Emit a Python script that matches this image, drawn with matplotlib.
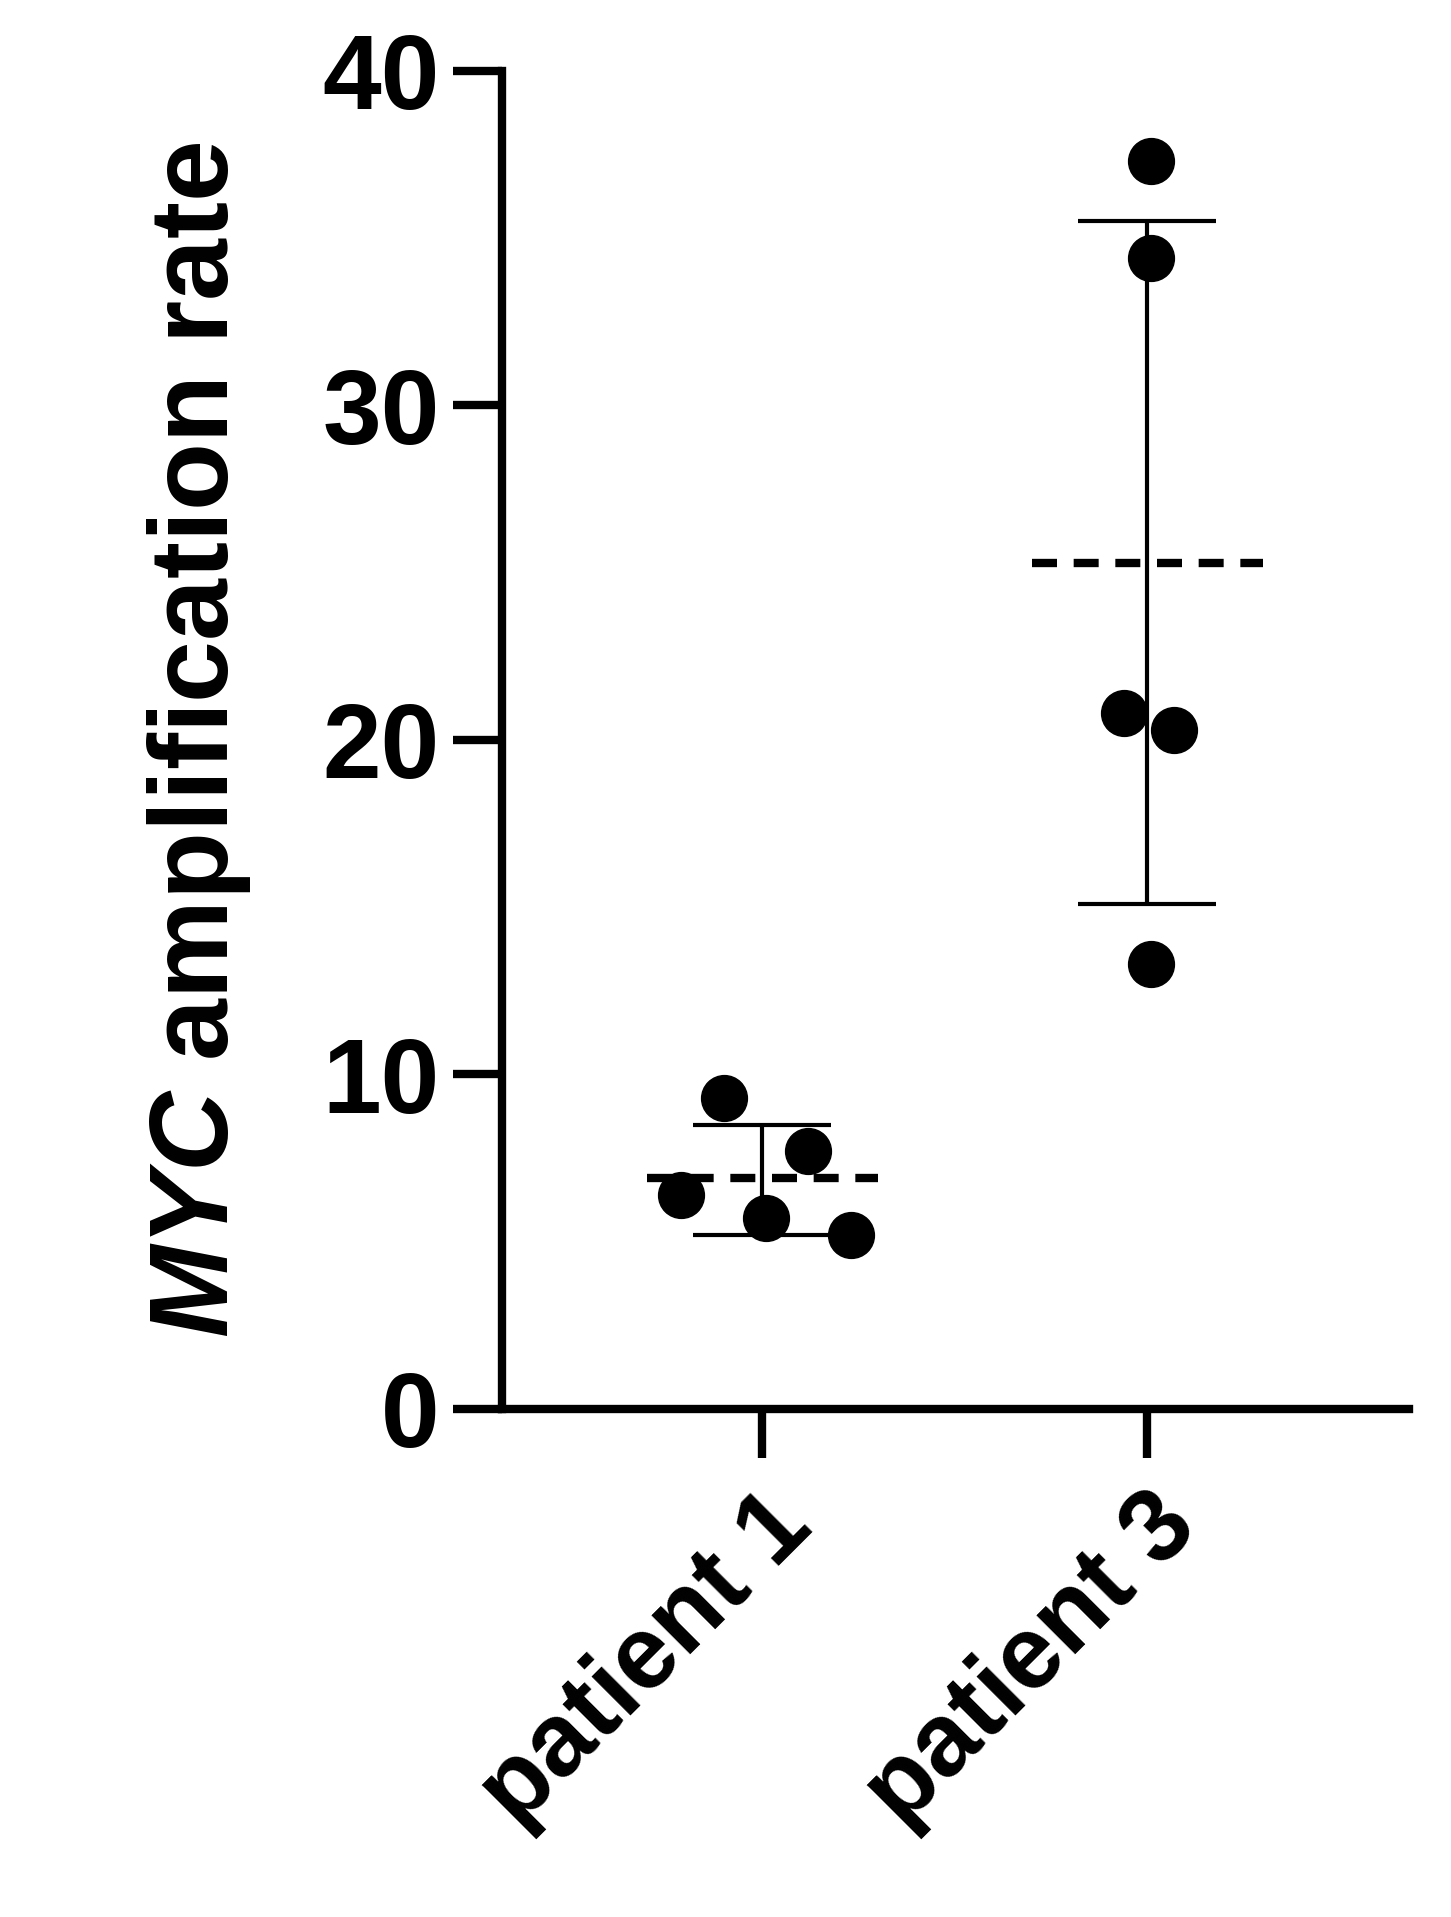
import matplotlib
matplotlib.use("Agg")
import matplotlib.pyplot as plt
import numpy as np

plt.rcParams['font.family'] = ['Liberation Sans', 'DejaVu Sans']
plt.rcParams['mathtext.fontset'] = 'custom'
plt.rcParams['mathtext.bfit'] = 'Liberation Sans:bold:italic'

groups = ["patient 1", "patient 3"]
p1_vals = [9.3, 6.4, 5.7, 7.7, 5.2]
p1_jitter = [-0.10, -0.21, 0.01, 0.12, 0.23]
p3_vals = [37.3, 34.4, 20.8, 20.3, 13.3]
p3_jitter = [0.01, 0.01, -0.06, 0.07, 0.01]
means = [6.9, 25.3]
sd_hi = [8.5, 35.5]
sd_lo = [5.2, 15.1]

fig = plt.figure(figsize=(14.51, 19.17), dpi=100)
ax = fig.add_axes([0.346, 0.265, 0.625, 0.698])

for i, (vals, jit) in enumerate([(p1_vals, p1_jitter), (p3_vals, p3_jitter)]):
    ax.plot(np.array(jit) + i, vals, 'o', color='black', markersize=33, zorder=3)
    ax.plot([i - 0.3, i + 0.3], [means[i]] * 2, '--', color='black', lw=6, dashes=(3, 2), zorder=2)
    ax.errorbar(i, means[i], yerr=[[means[i] - sd_lo[i]], [sd_hi[i] - means[i]]],
                fmt='none', ecolor='black', elinewidth=3, capsize=50, capthick=3, zorder=2)

ax.set_xlim(-0.676, 1.68)
ax.set_ylim(0, 40)
ax.set_yticks([0, 10, 20, 30, 40])
ax.set_xticks([0, 1])
ax.set_xticklabels(groups, rotation=45, ha='right', rotation_mode='anchor')
for s in ['top', 'right']:
    ax.spines[s].set_visible(False)
for s in ['left', 'bottom']:
    ax.spines[s].set_linewidth(6)
ax.tick_params(axis='both', width=6, length=35)
ax.tick_params(axis='y', pad=10, labelsize=76)
ax.tick_params(axis='x', pad=14, labelsize=74)
for lbl in ax.get_xticklabels() + ax.get_yticklabels():
    lbl.set_fontweight('bold')
ax.set_ylabel(r"$\mathbfit{MYC}$ amplification rate", fontsize=80, fontweight='bold', labelpad=50)

fig.savefig("out.png", dpi=100)
